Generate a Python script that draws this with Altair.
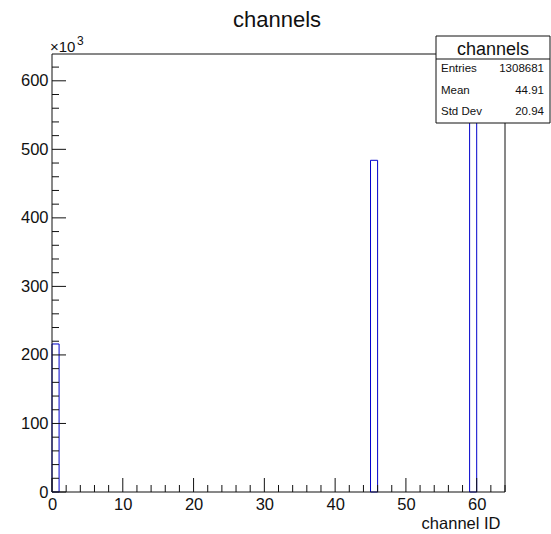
import altair as alt
import pandas as pd

# Histogram "channels": occupied bins (lower edge) and their entries
channel_ids = [0, 45, 59]
bin_counts = [216000, 484000, 608681]
n_bins = 64

# Statistics box
stat_names = ["Entries", "Mean", "Std Dev"]
stat_values = ["1308681", "44.91", "20.94"]

# Axis ticks
x_major = [0, 10, 20, 30, 40, 50, 60]
x_minor = [v for v in range(0, 65, 2) if v % 10 != 0]
y_major = [0, 100000, 200000, 300000, 400000, 500000, 600000]
y_minor = [v for v in range(0, 640000, 20000) if v % 100000 != 0]

W, H = 453, 438
FONT = "Liberation Sans"
BLUE = "#0000cc"
INK = "#111111"
ymax = 1.05 * max(bin_counts)

xs = alt.Scale(domain=[0, n_bins], nice=False, zero=False)
ys = alt.Scale(domain=[0, ymax], nice=False)

x_axis = alt.Axis(
    values=x_major, ticks=False, domain=False, grid=False,
    labelFont=FONT, labelFontSize=16.5, labelColor=INK, labelPadding=4,
    labelFlush=False, labelOverlap=False,
    title="channel ID", titleFont=FONT, titleFontSize=16.5, titleFontWeight="normal",
    titleColor=INK, titleAlign="right", titleAnchor="end", titleBaseline="alphabetic",
    titleX=448, titleY=36)
y_axis = alt.Axis(
    values=y_major, labelExpr="datum.value / 1000", ticks=False, domain=False,
    grid=False, labelFont=FONT, labelFontSize=16.5, labelColor=INK,
    labelPadding=4, labelFlush=False, labelOverlap=False, title="")

bars = pd.DataFrame({
    "lo": channel_ids,
    "hi": [c + 1 for c in channel_ids],
    "count": bin_counts,
    "base": [0] * len(channel_ids),
})

hist = alt.Chart(bars).mark_rect(fillOpacity=0, stroke=BLUE, strokeWidth=1).encode(
    x=alt.X("lo:Q", scale=xs, axis=x_axis),
    x2="hi:Q",
    y=alt.Y("count:Q", scale=ys, axis=y_axis),
    y2="base:Q",
)

xt_major = pd.DataFrame({"v": x_major})
xt_minor = pd.DataFrame({"v": x_minor})
yt_major = pd.DataFrame({"v": y_major})
yt_minor = pd.DataFrame({"v": y_minor})

def x_ticks(df, length):
    return alt.Chart(df).mark_rule(color=INK, strokeWidth=1).encode(
        x=alt.X("v:Q", scale=xs, axis=x_axis),
        y=alt.value(H), y2=alt.value(H - length))

def y_ticks(df, length):
    return alt.Chart(df).mark_rule(color=INK, strokeWidth=1).encode(
        y=alt.Y("v:Q", scale=ys, axis=y_axis),
        x=alt.value(0), x2=alt.value(length))

one = pd.DataFrame({"k": [0]})

frame = alt.Chart(one).mark_rect(fillOpacity=0, stroke=INK, strokeWidth=1).encode(
    x=alt.value(0), x2=alt.value(W), y=alt.value(0), y2=alt.value(H))

def label(text, x, y, size, align="left"):
    return alt.Chart(pd.DataFrame({"t": [text]})).mark_text(
        font=FONT, fontSize=size, color=INK, align=align, baseline="alphabetic").encode(
        text="t:N", x=alt.value(x), y=alt.value(y))

title = label("channels", 225, -27, 22, "center")
exp_base = label("\u00d710", -2, -2, 15)
exp_pow = label("3", 25, -9, 12)

# statistics box
box = alt.Chart(one).mark_rect(fill="white", stroke=INK, strokeWidth=1).encode(
    x=alt.value(384), x2=alt.value(498), y=alt.value(-18), y2=alt.value(69))
divider = alt.Chart(one).mark_rule(color=INK, strokeWidth=1).encode(
    x=alt.value(384), x2=alt.value(498), y=alt.value(5))
box_title = label("channels", 441, 1, 18, "center")

row_baselines = [17.5, 39.5, 60.5]
stat_layers = []
for name, val, yb in zip(stat_names, stat_values, row_baselines):
    stat_layers.append(label(name, 389, yb, 11.5))
    stat_layers.append(label(val, 492, yb, 11.5, "right"))

chart = alt.layer(
    hist,
    x_ticks(xt_major, 14), x_ticks(xt_minor, 7),
    y_ticks(yt_major, 14), y_ticks(yt_minor, 7),
    frame, title, exp_base, exp_pow,
    box, divider, box_title, *stat_layers,
).properties(
    width=W, height=H,
    autosize=alt.AutoSizeParams(type="none"),
    padding={"left": 52, "top": 54, "right": 46, "bottom": 42},
).configure_view(strokeWidth=0)

chart.save("out.html", embed_options={"renderer": "svg", "actions": False})
